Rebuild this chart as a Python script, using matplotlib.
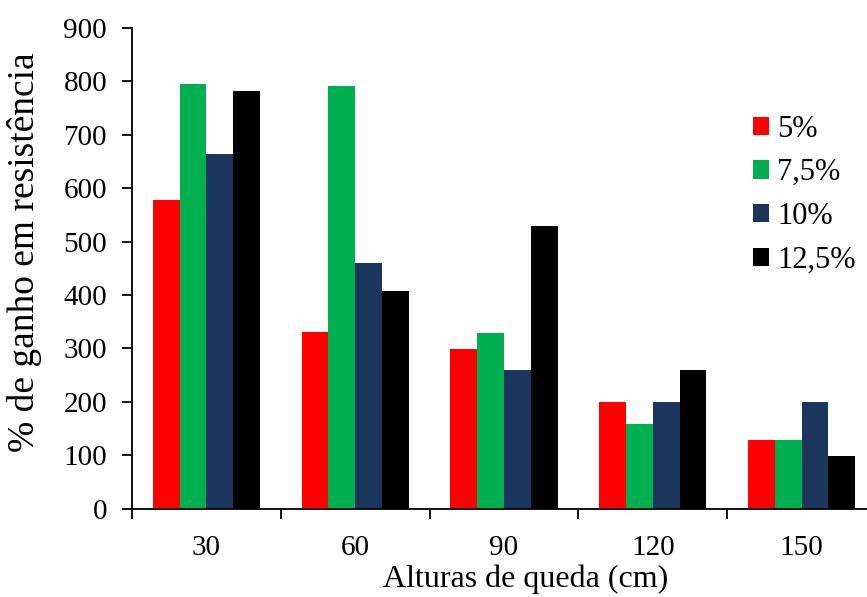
import numpy as np
import matplotlib
matplotlib.use("Agg")
import matplotlib.pyplot as plt
from matplotlib.ticker import FixedLocator, NullFormatter

plt.rcParams["font.family"] = ["Liberation Serif", "DejaVu Serif"]

# Drop heights and strength gain for each additive content
heights = ["30", "60", "90", "120", "150"]
series_names = ["5%", "7,5%", "10%", "12,5%"]
gain_5 = [578, 330, 299, 199, 129]
gain_7_5 = [795, 791, 329, 159, 129]
gain_10 = [664, 460, 259, 199, 199]
gain_12_5 = [782, 407, 530, 259, 98]
colors = ["#FF0000", "#00B050", "#1A365D", "#000000"]

series = [gain_5, gain_7_5, gain_10, gain_12_5]

fig = plt.figure(figsize=(8.67, 5.97), dpi=100)
ax = fig.add_axes([0.1523, 0.148, 0.8477, 0.805])

x = np.arange(len(heights))
bar_w = 0.18
for i, (vals, name, c) in enumerate(zip(series, series_names, colors)):
    offset = (i - 1.5) * bar_w
    ax.bar(x + offset, vals, width=bar_w, color=c, label=name, linewidth=0)

ax.set_xlim(-0.5, 4.44)
ax.set_ylim(0, 900)
ax.set_yticks(np.arange(0, 901, 100))

# labels at group centres, tick marks on group boundaries
ax.set_xticks(x)
ax.set_xticklabels(heights)
ax.tick_params(axis="x", which="major", length=0, pad=19, labelsize=21)
ax.xaxis.set_minor_locator(FixedLocator(np.arange(-0.5, 5, 1.0)))
ax.xaxis.set_minor_formatter(NullFormatter())
ax.tick_params(axis="x", which="minor", length=7, width=1.3, direction="out")
ax.tick_params(axis="y", length=7, width=1.3, direction="out", pad=11,
               labelsize=21)

for side in ["top", "right"]:
    ax.spines[side].set_visible(False)
for side in ["left", "bottom"]:
    ax.spines[side].set_linewidth(1.3)

ax.set_xlabel("Alturas de queda (cm)", fontsize=23)
ax.xaxis.set_label_coords(0.536, -0.117)
ax.set_ylabel("% de ganho em resistência", fontsize=27)
ax.yaxis.set_label_coords(-0.122, 0.533)

ax.legend(loc="upper left", bbox_to_anchor=(0.868, 0.808),
          bbox_transform=fig.transFigure, frameon=False,
          fontsize=22, handlelength=0.55, handleheight=0.55,
          handletextpad=0.25, labelspacing=0.48, borderpad=0,
          borderaxespad=0)

fig.savefig("out.png", dpi=100)
